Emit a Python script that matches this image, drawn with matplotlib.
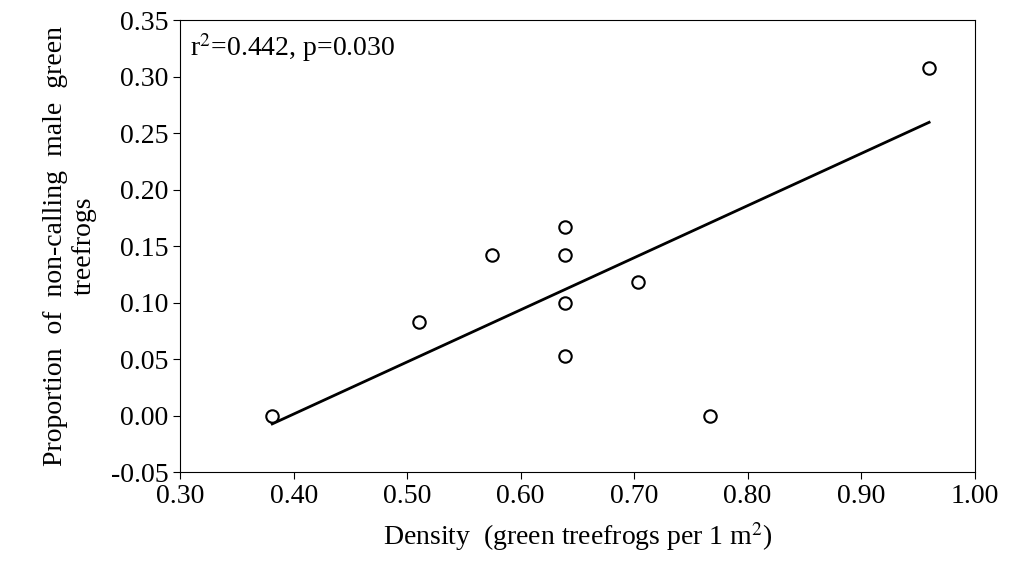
import numpy as np
import matplotlib.pyplot as plt

plt.rcParams['font.family'] = ['Liberation Serif', 'DejaVu Serif']
plt.rcParams['mathtext.fontset'] = 'stix'

density = [0.381, 0.51, 0.575, 0.639, 0.639, 0.639, 0.639, 0.703, 0.767, 0.960]
proportion = [0.0, 0.083, 0.142, 0.167, 0.142, 0.100, 0.053, 0.118, 0.0, 0.308]

# trend line as drawn in the original figure
trend_slope = 0.461
trend_intercept = -0.183

fig = plt.figure(figsize=(10.13, 5.75), dpi=100)
ax = fig.add_axes([0.178, 0.179, 0.784, 0.786])

ax.scatter(density, proportion, s=80, facecolors='white', edgecolors='black', linewidths=1.5, marker='o', zorder=3)

xs = np.array([min(density), max(density)])
ax.plot(xs, trend_slope * xs + trend_intercept, color='black', lw=2)

ax.set_xlim(0.30, 1.00)
ax.set_ylim(-0.05, 0.35)
ax.set_xticks(np.arange(0.30, 1.001, 0.10))
ax.set_yticks(np.arange(-0.05, 0.351, 0.05))
ax.xaxis.set_major_formatter(plt.FormatStrFormatter('%.2f'))
ax.yaxis.set_major_formatter(plt.FormatStrFormatter('%.2f'))
ax.tick_params(labelsize=20, direction='out', length=5)

ax.set_xlabel('Density  (green treefrogs per 1 m$^2$)', fontsize=20, labelpad=8)
ax.set_ylabel('Proportion  of  non-calling  male  green\ntreefrogs', fontsize=20, labelpad=10)
ax.text(0.012, 0.975, 'r$^2$=0.442, p=0.030', transform=ax.transAxes, fontsize=20, va='top')

fig.savefig('out.png', dpi=100)
